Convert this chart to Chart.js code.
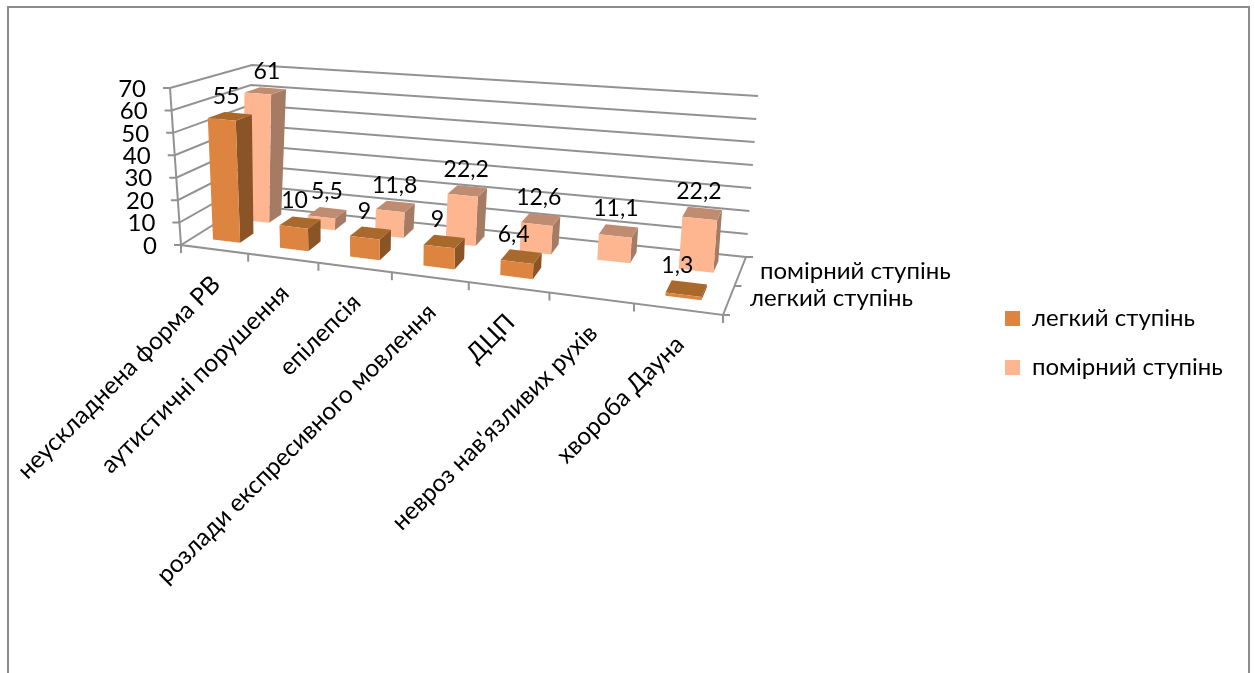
<!DOCTYPE html>
<html>
<head>
<meta charset="utf-8">
<style>
  html, body { margin: 0; padding: 0; background: #fff; overflow: hidden; }
  canvas { display: block; }
</style>
<script src="https://cdn.jsdelivr.net/npm/chart.js@4/dist/chart.umd.min.js"></script>
</head>
<body>
<canvas id="chart" width="1255" height="673"></canvas>
<script>
const categories = [
  "неускладнена форма РВ",
  "аутистичні порушення",
  "епілепсія",
  "розлади експресивного мовлення",
  "ДЦП",
  "невроз нав'язливих рухів",
  "хвороба Дауна",
];
const seriesNames = ["легкий ступінь", "помірний ступінь"];
const lightDegree = [55, 10, 9, 9, 6.4, null, 1.3];
const moderateDegree = [61, 5.5, 11.8, 22.2, 12.6, 11.1, 22.2];

const FONT = "Lato, 'Open Sans', sans-serif";
const GRID = "#929292";

// corners of the fake 3D box (floor, then the same corners at the top of the y scale)
const floorFL = [181, 245], floorFR = [723, 315], floorBL = [245, 205], floorBR = [746, 257];
const topFL = [170, 88], topFR = [737, 137], topBL = [252, 65], topBR = [758, 96];

const depthRows = [
  { front: 0.2, back: 0.42, labelDx: -12, face: "#DD8440", top: "#A9682C", side: "#8B5426" },
  { front: 0.68, back: 0.88, labelDx: -6, face: "#FDB68F", top: "#C08C71", side: "#A67B63" },
];

const mix = (a, b, t) => [a[0] + (b[0] - a[0]) * t, a[1] + (b[1] - a[1]) * t];

function project(u, d, h) {
  const p = (0.849 * u) / (1 - 0.151 * u); // perspective along the x axis
  const bottom = mix(mix(floorFL, floorFR, p), mix(floorBL, floorBR, p), d);
  const top = mix(mix(topFL, topFR, p), mix(topBL, topBR, p), d);
  return mix(bottom, top, h);
}

function poly(ctx, pts, fill) {
  ctx.beginPath();
  pts.forEach((p, i) => (i ? ctx.lineTo(p[0], p[1]) : ctx.moveTo(p[0], p[1])));
  if (fill) {
    ctx.closePath();
    ctx.fillStyle = fill;
    ctx.fill();
  } else {
    ctx.stroke();
  }
}

const fmt = (v) => String(v).replace(".", ",");

const box3d = {
  id: "box3d",
  afterLayout(chart) {
    const lg = chart.legend;
    lg.left = 980;
    lg.right = 1250;
    lg.top = 281.5;
    lg.bottom = 600;
  },
  beforeDraw(chart) {
    const { ctx, scales } = chart;
    const a = chart.chartArea;
    ctx.save();
    ctx.strokeStyle = "#8C8C8C";
    ctx.lineWidth = 2;
    ctx.strokeRect(8, 7, 1241, 700);

    // walls and axes
    ctx.strokeStyle = GRID;
    ctx.lineWidth = 2;
    scales.y.ticks.forEach((t) => {
      const h = (a.bottom - scales.y.getPixelForValue(t.value)) / a.height;
      const p = project(0, 0, h);
      poly(ctx, [[p[0] - 7, p[1]], p, project(0, 1, h), project(1, 1, h)]);
    });
    poly(ctx, [project(0, 0, 1), project(0, 0, 0), project(1, 0, 0), project(1, 1, 0), [project(1, 1, 0)[0] + 7, project(1, 1, 0)[1]]]);
    for (let i = 0; i <= categories.length; i++) {
      const p = project(i / categories.length, 0, 0);
      poly(ctx, [p, [p[0], p[1] + 8]]);
    }
    const mid = project(1, 0.5, 0);
    poly(ctx, [mid, [mid[0] + 7, mid[1]]]);
    const fr = project(1, 0, 0);
    poly(ctx, [fr, [fr[0] + 7, fr[1]]]);

    // tick texts
    ctx.fillStyle = "#000";
    ctx.font = "24px " + FONT;
    ctx.textAlign = "right";
    ctx.textBaseline = "middle";
    scales.y.ticks.forEach((t) => {
      const h = (a.bottom - scales.y.getPixelForValue(t.value)) / a.height;
      const p = project(0, 0, h);
      ctx.fillText(t.label, p[0] - 24, p[1] + 1);
    });
    ctx.font = "24.5px " + FONT;
    categories.forEach((c, i) => {
      const x = scales.x.getPixelForValue(i);
      const p = project((x - a.left) / a.width, 0, 0);
      ctx.save();
      ctx.translate(p[0] + 2, p[1] + 31);
      ctx.rotate(-Math.PI / 4);
      ctx.fillText(c, 0, 0);
      ctx.restore();
    });
    ctx.font = "24px " + FONT;
    ctx.textAlign = "left";
    ctx.fillText(seriesNames[1], 760, 271);
    ctx.fillText(seriesNames[0], 750, 298);
    ctx.restore();
  },
  beforeDatasetsDraw(chart) {
    const { ctx } = chart;
    const a = chart.chartArea;
    const labels = [];
    ctx.save();
    [1, 0].forEach((di) => {
      const row = depthRows[di];
      chart.getDatasetMeta(di).data.forEach((el, i) => {
        const v = chart.data.datasets[di].data[i];
        if (v === null) return;
        const u0 = (el.x - el.width / 2 - a.left) / a.width;
        const u1 = (el.x + el.width / 2 - a.left) / a.width;
        const h = (a.bottom - el.y) / a.height;
        const { front: d0, back: d1 } = row;
        poly(ctx, [project(u1, d0, 0), project(u1, d1, 0), project(u1, d1, h), project(u1, d0, h)], row.side);
        poly(ctx, [project(u0, d0, h), project(u1, d0, h), project(u1, d1, h), project(u0, d1, h)], row.top);
        poly(ctx, [project(u0, d0, 0), project(u1, d0, 0), project(u1, d0, h), project(u0, d0, h)], row.face);
        const p = project((u0 + u1) / 2, d1, h);
        labels.push([fmt(v), p[0] + row.labelDx, p[1] - 17]);
      });
    });
    ctx.fillStyle = "#000";
    ctx.font = "23px " + FONT;
    ctx.textAlign = "center";
    ctx.textBaseline = "middle";
    labels.forEach((l) => ctx.fillText(l[0], l[1], l[2]));
    ctx.restore();
    return false; // the flat bars are replaced by the boxes above
  },
};

new Chart(document.getElementById("chart"), {
  type: "bar",
  data: {
    labels: categories,
    datasets: [
      { label: seriesNames[0], data: lightDegree, backgroundColor: depthRows[0].face, grouped: false },
      { label: seriesNames[1], data: moderateDegree, backgroundColor: depthRows[1].face, grouped: false },
    ],
  },
  options: {
    responsive: false,
    animation: false,
    layout: { padding: { left: 170, top: 88, bottom: 428, right: 5 } },
    barPercentage: 0.41,
    categoryPercentage: 1,
    scales: {
      x: { display: false },
      y: { display: false, min: 0, max: 70, ticks: { stepSize: 10 } },
    },
    plugins: {
      tooltip: { enabled: false },
      legend: {
        position: "right",
        align: "start",
        labels: {
          boxWidth: 15,
          boxHeight: 15,
          padding: 25,
          color: "#000",
          font: { size: 24, family: FONT },
        },
      },
    },
  },
  plugins: [box3d],
});
</script>
</body>
</html>
